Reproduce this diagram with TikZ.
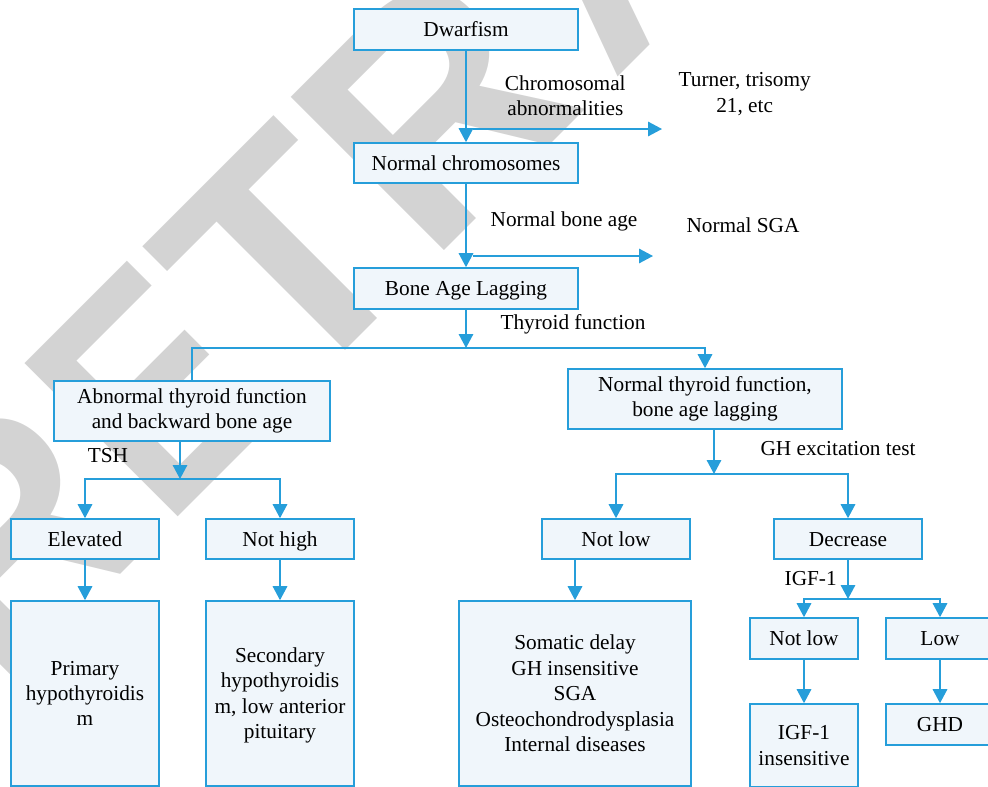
\documentclass[tikz,border=0pt]{standalone}
\usepackage{fontspec}
\setmainfont{Liberation Serif}
\newfontfamily\wmfont{Liberation Sans}
\usetikzlibrary{arrows.meta}
\definecolor{fb}{RGB}{38,158,218}
\definecolor{boxfill}{RGB}{240,246,251}
\definecolor{wmgray}{RGB}{211,211,211}
\newcommand\dfs{\fontsize{21.3}{25.4}\selectfont}
\begin{document}
\begin{tikzpicture}[x=1pt,y=-1pt,
  box/.style={draw=fb, fill=boxfill, line width=1.6pt, inner sep=0pt, align=center, font=\dfs},
  lbl/.style={inner sep=0pt, align=center, font=\dfs},
  one/.style={text height=14.4pt, text depth=0pt},
  conn/.style={draw=fb, line width=1.6pt},
  arr/.style={conn, -{Triangle[width=14.5pt,length=14pt]}},
  wmtext/.style={text=wmgray, inner sep=0pt, rotate=45, anchor=base west, font=\wmfont\bfseries\fontsize{315}{315}\selectfont}]
\useasboundingbox (0,0) rectangle (988,787);
\clip (0,0) rectangle (988,787);
% watermark
\node[wmtext] (wmr1) at (0.3,694.7) {R};
\node[wmtext, xscale=0.85] (wme) at (165.4,529.6) {E};
\node[wmtext] (wmt) at (292.9,402.2) {T};
\node[wmtext] (wmr2) at (429.4,265.6) {R};
\node[wmtext] (wma) at (612,83) {A};
% boxes
\node[box, one, minimum width=224pt, minimum height=41pt] (dwarf) at (466,29.5) {Dwarfism};
\node[box, one, minimum width=224pt, minimum height=40pt] (normchr) at (466,163) {Normal chromosomes};
\node[box, one, minimum width=224pt, minimum height=41pt] (bal) at (466,288.5) {Bone Age Lagging};
\node[box, minimum width=276pt, minimum height=60pt] (abn) at (192,411) {Abnormal thyroid function\\and backward bone age};
\node[box, minimum width=274pt, minimum height=60pt] (normthy) at (705,399) {Normal thyroid function,\\bone age lagging};
\node[box, one, minimum width=148pt, minimum height=40pt] (elev) at (85,539) {Elevated};
\node[box, one, minimum width=148pt, minimum height=40pt] (nothigh) at (280,539) {Not high};
\node[box, minimum width=148pt, minimum height=185pt] (primary) at (85,693.5) {Primary\\hypothyroidis\\m};
\node[box, text depth=0.7pt, minimum width=148pt, minimum height=185pt] (secondary) at (280,693.5) {Secondary\\hypothyroidis\\m, low anterior\\pituitary};
\node[box, one, minimum width=148pt, minimum height=40pt] (notlow) at (616,539) {Not low};
\node[box, one, minimum width=148pt, minimum height=40pt] (decrease) at (848,539) {Decrease};
\node[box, minimum width=232pt, minimum height=185pt] (big) at (575,693.5) {Somatic delay\\GH insensitive\\SGA\\Osteochondrodysplasia\\Internal diseases};
\node[box, one, minimum width=108pt, minimum height=41pt] (notlowb) at (804,638.5) {Not low};
\node[box, one, minimum width=108pt, minimum height=41pt] (low) at (940,638.5) {Low};
\node[box, minimum width=108pt, minimum height=83pt] (igfins) at (804,745.5) {IGF-1\\insensitive};
\node[box, one, minimum width=108pt, minimum height=41pt] (ghd) at (940,724.5) {GHD};
% labels
\node[lbl] (chrlab) at (565.3,95.7) {Chromosomal\\abnormalities};
\node[lbl] (turner) at (744.7,94) {Turner, trisomy\\21, etc};
\node[lbl, one] (nbalab) at (564,219) {Normal bone age};
\node[lbl, one] (sga) at (743,225.5) {Normal SGA};
\node[lbl, one] (thylab) at (573,322) {Thyroid function};
\node[lbl, one] (tsh) at (108,455) {TSH};
\node[lbl, one] (ghlab) at (838,448) {GH excitation test};
\node[lbl, one] (igflab) at (810.7,578) {IGF-1};
% coordinates
\coordinate (c1a) at (473,129);
\coordinate (c1b) at (662,129);
\coordinate (c2a) at (473,256);
\coordinate (c2b) at (653,256);
\coordinate (j1) at (466,348);
\coordinate (j2s) at (180,441);
\coordinate (j2) at (180,479);
\coordinate (j3s) at (714,429);
\coordinate (j3) at (714,474);
\coordinate (j4) at (848,599);
% connectors
\draw[arr] (dwarf) -- (normchr);
\draw[arr] (normchr) -- (bal);
\draw[arr] (c1a) -- (c1b);
\draw[arr] (c2a) -- (c2b);
\draw[arr] (bal) -- (j1);
\draw[arr] (abn.north) |- (j1) -| (normthy.north);
\draw[arr] (j2s) -- (j2);
\draw[arr] (j2) -| (elev.north);
\draw[arr] (j2) -| (nothigh.north);
\draw[arr] (elev) -- (primary);
\draw[arr] (nothigh) -- (secondary);
\draw[arr] (j3s) -- (j3);
\draw[arr] (j3) -| (notlow.north);
\draw[arr] (j3) -| (decrease.north);
\draw[arr] (notlow.south -| big.north) -- (big.north);
\draw[arr] (decrease) -- (j4);
\draw[arr] (j4) -| (notlowb.north);
\draw[arr] (j4) -| (low.north);
\draw[arr] (notlowb) -- (igfins);
\draw[arr] (low) -- (ghd);
\end{tikzpicture}
\end{document}
